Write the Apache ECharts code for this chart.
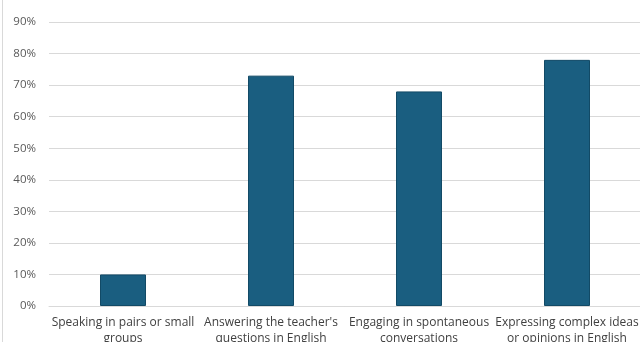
<!DOCTYPE html>
<html><head><meta charset="utf-8">
<script src="https://cdn.jsdelivr.net/npm/echarts@6/dist/echarts.min.js"></script>
<style>html,body{margin:0;padding:0;background:#fff}#c{width:640px;height:342px}</style>
</head><body><div id="c"></div>
<script>
const categories = [
  "Speaking in pairs or small\ngroups",
  "Answering the teacher's\nquestions in English",
  "Engaging in spontaneous\nconversations",
  "Expressing complex ideas\nor opinions in English"
];
const values = [0.10, 0.73, 0.68, 0.78];
const yMax = 0.9;
const yStep = 0.1;

const chart = echarts.init(document.getElementById('c'), null, {renderer: 'canvas'});
chart.setOption({
  animation: false,
  grid: {left: 49, right: -1, top: 22, bottom: 36, containLabel: false, outerBoundsMode: 'none'},
  graphic: [{type: 'line', shape: {x1: 2.5, y1: 0, x2: 2.5, y2: 342}, style: {stroke: '#d9d9d9', lineWidth: 1}}],
  xAxis: {
    type: 'category', data: categories,
    axisLine: {show: true, lineStyle: {color: '#d9d9d9'}},
    axisTick: {show: false},
    axisLabel: {color: '#404040', fontFamily: 'Open Sans', fontSize: 12, margin: 9, lineHeight: 16, interval: 0}
  },
  yAxis: {
    type: 'value', min: 0, max: yMax, interval: yStep,
    axisLine: {show: false}, axisTick: {show: false},
    splitLine: {lineStyle: {color: '#d9d9d9', width: 1}},
    axisLabel: {color: '#595959', fontFamily: 'Open Sans', fontSize: 11.5, margin: 13,
      formatter: v => Math.round(v * 100) + '%'}
  },
  series: [{
    type: 'bar', data: values, barWidth: 46,
    itemStyle: {color: '#1a5e80', borderColor: '#124a66', borderWidth: 1}
  }]
});
</script></body></html>
